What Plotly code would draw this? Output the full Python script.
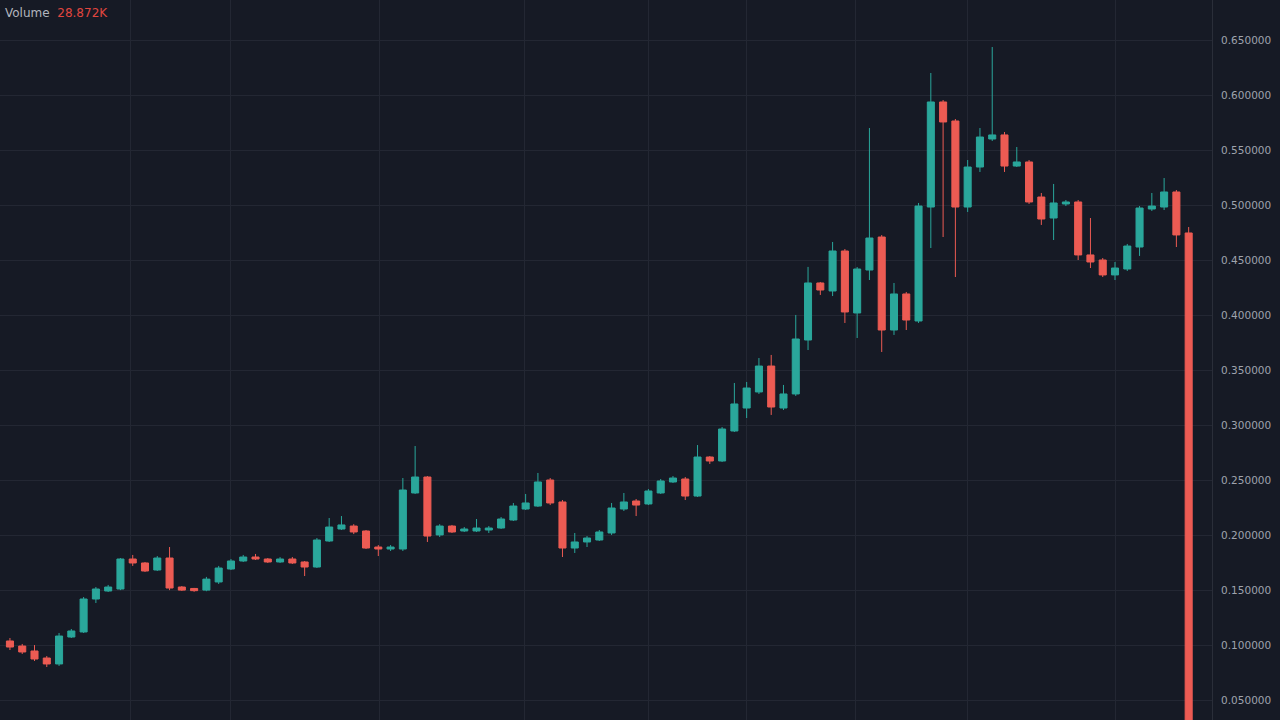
import plotly.graph_objects as go

idx = list(range(97))
opens = [0.1037,0.0991,0.0946,0.0882,0.0828,0.1073,0.1119,0.1419,0.1492,0.1510,
         0.1783,0.1747,0.1683,0.1792,0.1528,0.1515,0.1500,0.1574,0.1692,0.1765,
         0.1801,0.1783,0.1756,0.1783,0.1756,0.1710,0.1947,0.2056,0.2083,0.2038,
         0.1892,0.1874,0.1874,0.2384,0.2529,0.2002,0.2083,0.2038,0.2038,0.2047,
         0.2065,0.2138,0.2238,0.2265,0.2502,0.2302,0.1883,0.1938,0.1956,0.2020,
         0.2238,0.2311,0.2284,0.2384,0.2484,0.2511,0.2356,0.2711,0.2675,0.2948,
         0.3157,0.3303,0.3539,0.3157,0.3285,0.3776,0.4295,0.4222,0.4586,0.4022,
         0.4413,0.4713,0.3867,0.4195,0.3949,0.4986,0.5942,0.5769,0.4986,0.5350,
         0.5605,0.5642,0.5359,0.5396,0.5077,0.4886,0.5014,0.5032,0.4550,0.4504,
         0.4368,0.4422,0.4622,0.4968,0.4986,0.5123,0.4750]
highs = [0.1064,0.1010,0.1000,0.0900,0.1110,0.1146,0.1437,0.1528,0.1547,0.1792,
         0.1820,0.1756,0.1810,0.1892,0.1537,0.1520,0.1620,0.1720,0.1783,0.1820,
         0.1829,0.1792,0.1800,0.1801,0.1765,0.1974,0.2156,0.2174,0.2100,0.2047,
         0.1910,0.1910,0.2520,0.2811,0.2538,0.2100,0.2093,0.2074,0.2147,0.2083,
         0.2165,0.2293,0.2375,0.2566,0.2520,0.2320,0.2020,0.1992,0.2047,0.2293,
         0.2384,0.2329,0.2420,0.2511,0.2538,0.2529,0.2820,0.2720,0.2984,0.3385,
         0.3394,0.3612,0.3640,0.3367,0.4004,0.4441,0.4304,0.4668,0.4604,0.4440,
         0.5705,0.4731,0.4295,0.4213,0.5023,0.6206,0.5960,0.5787,0.5414,0.5705,
         0.6442,0.5669,0.5532,0.5414,0.5114,0.5196,0.5050,0.5050,0.4886,0.4522,
         0.4486,0.4650,0.4995,0.5114,0.5250,0.5141,0.4804]
lows = [0.0955,0.0919,0.0855,0.0800,0.0810,0.1064,0.1110,0.1383,0.1483,0.1500,
        0.1720,0.1665,0.1674,0.1500,0.1492,0.1485,0.1490,0.1556,0.1683,0.1756,
        0.1774,0.1747,0.1747,0.1738,0.1628,0.1701,0.1938,0.2047,0.2010,0.1874,
        0.1810,0.1856,0.1856,0.2375,0.1938,0.1983,0.2020,0.2029,0.2029,0.2020,
        0.2056,0.2129,0.2229,0.2256,0.2274,0.1801,0.1838,0.1892,0.1947,0.2002,
        0.2220,0.2174,0.2274,0.2375,0.2475,0.2320,0.2347,0.2648,0.2666,0.2939,
        0.3066,0.3285,0.3094,0.3139,0.3267,0.3685,0.4186,0.4176,0.3931,0.3794,
        0.4322,0.3667,0.3822,0.3867,0.3931,0.4613,0.4713,0.4349,0.4941,0.5305,
        0.5587,0.5305,0.5350,0.5014,0.4823,0.4686,0.4995,0.4504,0.4431,0.4349,
        0.4322,0.4404,0.4541,0.4950,0.4959,0.4622,0.0000]
closes = [0.0982,0.0937,0.0873,0.0828,0.1082,0.1128,0.1419,0.1510,0.1528,0.1783,
          0.1747,0.1674,0.1792,0.1519,0.1500,0.1495,0.1600,0.1701,0.1765,0.1801,
          0.1783,0.1756,0.1783,0.1747,0.1710,0.1956,0.2074,0.2093,0.2029,0.1883,
          0.1874,0.1892,0.2411,0.2529,0.1992,0.2083,0.2029,0.2056,0.2065,0.2065,
          0.2147,0.2265,0.2293,0.2484,0.2293,0.1883,0.1938,0.1974,0.2029,0.2247,
          0.2302,0.2274,0.2402,0.2493,0.2520,0.2356,0.2711,0.2675,0.2966,0.3194,
          0.3339,0.3539,0.3166,0.3285,0.3785,0.4295,0.4231,0.4586,0.4031,0.4422,
          0.4704,0.3867,0.4195,0.3958,0.4995,0.5942,0.5760,0.4986,0.5350,0.5623,
          0.5642,0.5359,0.5396,0.5032,0.4877,0.5023,0.5032,0.4550,0.4486,0.4368,
          0.4431,0.4631,0.4977,0.4995,0.5123,0.4732,0.0000]

x_grid = [9.85, 18.0, 30.1, 41.9, 52.0, 60.0, 68.9, 78.0, 90.0]
y_ticks = [0.05, 0.10, 0.15, 0.20, 0.25, 0.30, 0.35, 0.40, 0.45, 0.50, 0.55, 0.60, 0.65]
volume_label = "Volume"
volume_value = "28.872K"

UP = "#2aa79b"
DOWN = "#ec5b53"
BG = "#161a25"
GRID = "#232733"

fig = go.Figure(go.Candlestick(
    x=idx, open=opens, high=highs, low=lows, close=closes,
    increasing=dict(line=dict(color=UP, width=1), fillcolor=UP),
    decreasing=dict(line=dict(color=DOWN, width=1), fillcolor=DOWN),
    whiskerwidth=0, showlegend=False, hoverinfo="skip",
))

fig.update_layout(
    width=1280, height=720,
    margin=dict(l=0, r=68, t=0, b=0),
    paper_bgcolor=BG, plot_bgcolor=BG,
    boxgap=0.18,
    xaxis=dict(range=[-0.81, 97.9], rangeslider=dict(visible=False),
               tickmode="array", tickvals=x_grid, showticklabels=False,
               showgrid=True, gridcolor=GRID, gridwidth=1, zeroline=False,
               showline=False, fixedrange=True),
    yaxis=dict(side="right", range=[0.0318, 0.687], tickmode="array",
               tickvals=y_ticks, tickformat=".6f", showgrid=True,
               gridcolor=GRID, gridwidth=1, zeroline=False,
               showline=True, linecolor="#2a2e39", linewidth=1,
               ticks="", ticklabelstandoff=6,
               tickfont=dict(family="DejaVu Sans", size=10.5, color="#9fa3ad")),
    annotations=[dict(
        x=0, y=1, xref="paper", yref="paper", xanchor="left", yanchor="top",
        xshift=3, yshift=-4, showarrow=False, align="left",
        text=f"<span style='color:#b2b5be'>{volume_label}</span>  <span style='color:#e0463f'>{volume_value}</span>",
        font=dict(family="DejaVu Sans", size=12),
    )],
)

fig.write_html("out.html", config={"displayModeBar": False},
               post_script="document.body.style.margin='0';document.body.style.background='#161a25';")
